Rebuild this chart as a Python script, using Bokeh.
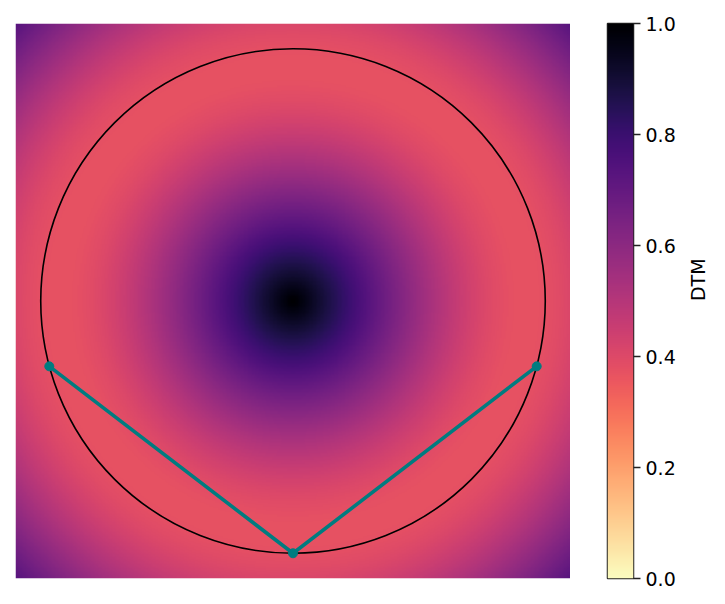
import math
import numpy as np
from bokeh.plotting import figure
from bokeh.layouts import row
from bokeh.models import LinearColorMapper, FixedTicker, PrintfTickFormatter
from bokeh.palettes import Magma256
from bokeh.embed import file_html
from bokeh.resources import INLINE

# ---- data ----
extent = [-1.1, 1.1]          # image extent (both axes)
circle_center = [0.0, 0.0]
circle_radius = 1.0
dtm_mass = 0.21               # DTM mass parameter
path_x = [-0.966, 0.0, 0.966]
path_y = [-0.259, -1.0, -0.259]
cbar_ticks = [0.0, 0.2, 0.4, 0.6, 0.8, 1.0]
cbar_label = "DTM"

# ---- DTM field for a uniform measure on the circle ----
n = 400
g = np.linspace(extent[0], extent[1], n)
X, Y = np.meshgrid(g, g)
rho = np.hypot(X - circle_center[0], Y - circle_center[1]) / circle_radius
a = np.pi * dtm_mass
s = np.sin(a) / a
dtm = np.sqrt(rho**2 + 1 - 2 * rho * s)
dtm = dtm / dtm.max()

palette = list(reversed(Magma256))
mapper = LinearColorMapper(palette=palette, low=0.0, high=1.0)

FONT = "DejaVu Sans"

p = figure(frame_width=555, frame_height=555, x_range=tuple(extent), y_range=tuple(extent),
           output_backend="svg", toolbar_location=None,
           min_border_left=15, min_border_right=0, min_border_top=23, min_border_bottom=20)
p.image(image=[dtm], x=extent[0], y=extent[0], dw=extent[1] - extent[0], dh=extent[1] - extent[0],
        color_mapper=mapper)
p.circle(x=[circle_center[0]], y=[circle_center[1]], radius=circle_radius,
         fill_color=None, line_color="black", line_width=1.6)
p.line(path_x, path_y, line_color="#007c80", line_width=3.6)
p.scatter(path_x, path_y, size=9, fill_color="#007c80", line_color="#007c80")
p.axis.visible = False
p.grid.visible = False
p.outline_line_color = None
p.background_fill_color = "white"

# ---- colorbar ----
cb = figure(frame_width=26, frame_height=555, x_range=(0, 1), y_range=(0, 1),
            output_backend="svg", toolbar_location=None, y_axis_location="right",
            min_border_left=37, min_border_right=5, min_border_top=22, min_border_bottom=21)
cvals = np.linspace(0, 1, 256).reshape(256, 1)
cb.image(image=[cvals], x=0, y=0, dw=1, dh=1, color_mapper=mapper)
cb.xaxis.visible = False
cb.grid.visible = False
cb.outline_line_color = "#222222"
cb.outline_line_width = 1.5
ax = cb.yaxis[0]
ax.ticker = FixedTicker(ticks=cbar_ticks)
ax.formatter = PrintfTickFormatter(format="%.1f")
ax.major_tick_out = 7
ax.major_tick_in = 0
ax.minor_tick_line_color = None
ax.major_tick_line_width = 1.3
ax.major_tick_line_color = "#222222"
ax.axis_line_color = None
ax.major_label_text_font = FONT
ax.major_label_text_font_size = "19px"
ax.major_label_text_color = "black"
ax.major_label_standoff = 5
ax.axis_label = cbar_label
ax.axis_label_text_font = FONT
ax.axis_label_text_font_size = "19px"
ax.axis_label_text_font_style = "normal"
ax.axis_label_text_color = "black"
ax.axis_label_orientation = math.pi / 2
ax.axis_label_standoff = 19

layout = row(p, cb)
open("out.html", "w").write(file_html(layout, INLINE))
